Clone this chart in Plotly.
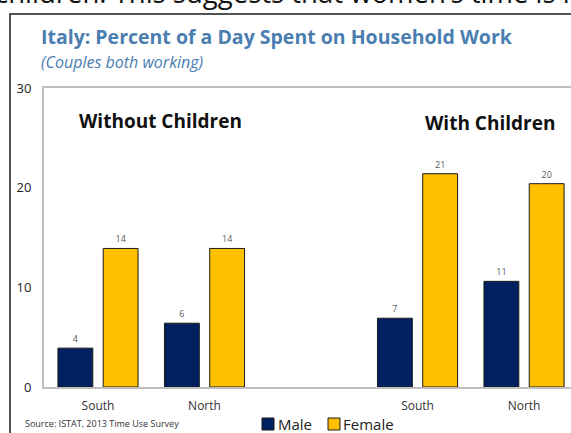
import plotly.graph_objects as go

# Category slots: two groups (without / with children), blank slot between them
slot_pos = [0, 1, 3, 4]
slot_labels = ["South", "North", "South", "North"]

male = [3.9, 6.4, 6.9, 10.6]
female = [13.9, 13.9, 21.4, 20.4]

y_ticks = [0, 10, 20, 30]

FONT = "Open Sans"
NAVY = "#002060"
GOLD = "#FFC000"
TITLE_BLUE = "#4A7EB0"

# Plot-area geometry in pixels, used to place paper-referenced decorations
W, H = 571, 433
L, T, B = 44, 88, 46
PW, PH = W - L, H - T - B


def px_x(px):
    return (px - L) / PW


def px_y(py):
    return (H - B - py) / PH


series = [("Male", male, NAVY), ("Female", female, GOLD)]

fig = go.Figure()
for name, vals, color in series:
    fig.add_trace(go.Bar(
        x=slot_pos, y=vals, name=name,
        marker=dict(color=color, line=dict(color="#1a1a1a", width=1)),
        texttemplate="%{y:.0f}", textposition="outside",
        textfont=dict(size=9, color="#595959", family=FONT),
        cliponaxis=False, showlegend=False,
    ))

fig.update_layout(
    width=W, height=H,
    margin=dict(l=L, r=0, t=T, b=B, autoexpand=False),
    paper_bgcolor="white", plot_bgcolor="white",
    barmode="group", bargap=0.15, bargroupgap=0.23,
    font=dict(family=FONT, color="#222222"),
    xaxis=dict(
        range=[-0.507, 4.441],
        tickmode="array", tickvals=slot_pos, ticktext=slot_labels,
        tickfont=dict(size=12, color="#333333"),
        showgrid=False, zeroline=False,
        showline=True, linecolor="#BFBFBF", linewidth=2, mirror=True,
        ticks="", ticklabelstandoff=7,
    ),
    yaxis=dict(
        range=[0, 30], tickmode="array", tickvals=y_ticks,
        tickfont=dict(size=13, color="#222222"),
        showgrid=False, zeroline=False,
        showline=True, linecolor="#BFBFBF", linewidth=2, mirror=False,
        ticks="", ticklabelstandoff=8,
    ),
)

# Outer frame of the chart panel
fig.add_shape(type="rect", xref="paper", yref="paper",
              x0=px_x(10), x1=px_x(620), y0=px_y(480), y1=px_y(14),
              line=dict(color="#1a1a1a", width=1.5), layer="above")

# Running text line from the surrounding page
fig.add_annotation(
    text="children. This suggests that women\u2019s time is not",
    xref="paper", yref="paper", x=px_x(-7), y=px_y(-7.5),
    xanchor="left", yanchor="middle", showarrow=False,
    font=dict(size=27.5, color="#111111", family=FONT),
)

fig.add_annotation(
    text="<b>Italy: Percent of a Day Spent on Household Work</b>",
    xref="paper", yref="paper", x=px_x(39), y=px_y(37),
    xanchor="left", yanchor="middle", showarrow=False,
    font=dict(size=19.5, color=TITLE_BLUE, family=FONT),
)
fig.add_annotation(
    text="<i>(Couples both working)</i>",
    xref="paper", yref="paper", x=px_x(39), y=px_y(62),
    xanchor="left", yanchor="middle", showarrow=False,
    font=dict(size=16, color=TITLE_BLUE, family=FONT),
)

fig.add_annotation(
    text="<b>Without Children</b>", xref="x", yref="y", x=0.59, y=26.7,
    showarrow=False, font=dict(size=19, color="#111111", family=FONT),
)
fig.add_annotation(
    text="<b>With Children</b>", xref="x", yref="y", x=3.68, y=26.5,
    showarrow=False, font=dict(size=19, color="#111111", family=FONT),
)

fig.add_annotation(
    text="Source: ISTAT, 2013 Time Use Survey",
    xref="paper", yref="paper", x=px_x(23), y=px_y(423),
    xanchor="left", yanchor="middle", showarrow=False,
    font=dict(size=9, color="#333333", family=FONT),
)

# Legend: bordered colour squares with series names
legend_x = [(262, 276), (328, 341)]
for (sq_x, txt_x), (name, _, color) in zip(legend_x, series):
    fig.add_shape(type="rect", xref="paper", yref="paper",
                  x0=px_x(sq_x), x1=px_x(sq_x + 12),
                  y0=px_y(430), y1=px_y(418),
                  fillcolor=color, line=dict(color="#1a1a1a", width=1))
    fig.add_annotation(
        text=name, xref="paper", yref="paper", x=px_x(txt_x), y=px_y(424),
        xanchor="left", yanchor="middle", showarrow=False,
        font=dict(size=15, color="#222222", family=FONT),
    )

fig.write_html("out.html")
